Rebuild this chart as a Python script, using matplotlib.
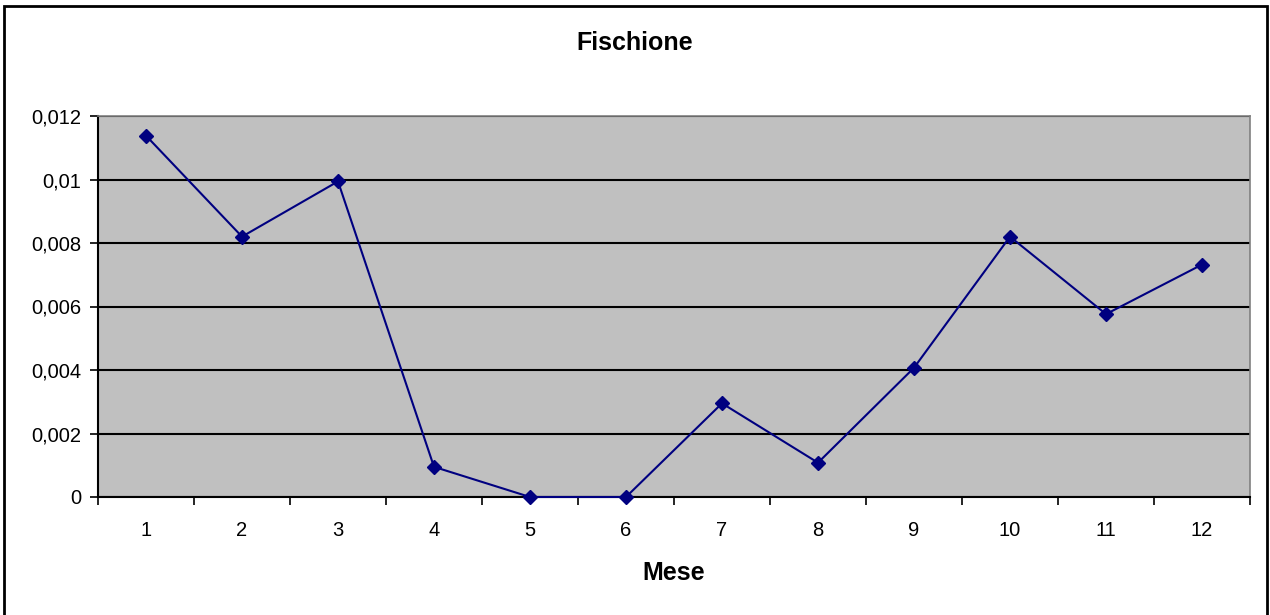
import matplotlib.pyplot as plt
from matplotlib.patches import Rectangle
from matplotlib.ticker import FuncFormatter, MultipleLocator

plt.rcParams['font.family'] = ['Liberation Sans', 'DejaVu Sans']

mesi = [1, 2, 3, 4, 5, 6, 7, 8, 9, 10, 11, 12]
valori = [0.01138, 0.0082, 0.00994, 0.00095, 0.0, 0.0,
          0.00295, 0.00108, 0.00407, 0.0082, 0.00576, 0.00732]


def virgola(v, pos):
    s = '{:g}'.format(round(v, 6))
    return s.replace('.', ',')


fig = plt.figure(figsize=(12.7, 6.15), dpi=100)
ax = fig.add_axes([98 / 1270, 1 - 497 / 615, 1152 / 1270, 381 / 615])
ax.set_facecolor('#C0C0C0')

ax.plot(mesi, valori, color='#000080', linewidth=1.5, marker='D',
        markersize=7, markerfacecolor='#000080', markeredgecolor='#000080',
        clip_on=False, zorder=3)

ax.set_xlim(0.5, 12.5)
ax.set_ylim(0, 0.012)
ax.yaxis.set_major_locator(MultipleLocator(0.002))
ax.yaxis.set_major_formatter(FuncFormatter(virgola))
ax.grid(axis='y', color='black', linewidth=1.5)
ax.set_axisbelow(True)

ax.set_xticks(mesi)
ax.set_xticklabels([str(m) for m in mesi])
ax.set_xticks([m + 0.5 for m in [0] + mesi], minor=True)
ax.tick_params(axis='x', which='major', length=0, pad=17, labelsize=14.5)
ax.tick_params(axis='x', which='minor', length=6, width=1.2, direction='out')
ax.tick_params(axis='y', length=6, width=1.2, labelsize=14.5, pad=6)

for side in ['left', 'bottom']:
    ax.spines[side].set_color('black')
    ax.spines[side].set_linewidth(1.5)
for side in ['top', 'right']:
    ax.spines[side].set_color('#808080')
    ax.spines[side].set_linewidth(1.2)

fig.text(674 / 1270, 1 - 573 / 615, 'Mese', ha='center', va='center',
         fontsize=18, fontweight='bold')
fig.text(0.5, 1 - 43 / 615, 'Fischione', ha='center', va='center',
         fontsize=18, fontweight='bold')

fig.patches.append(Rectangle((4 / 1270, -0.02), 1263 / 1270, 1.02 - 6 / 615,
                             transform=fig.transFigure, fill=False,
                             edgecolor='black', linewidth=2))

fig.savefig('out.png', dpi=100)
